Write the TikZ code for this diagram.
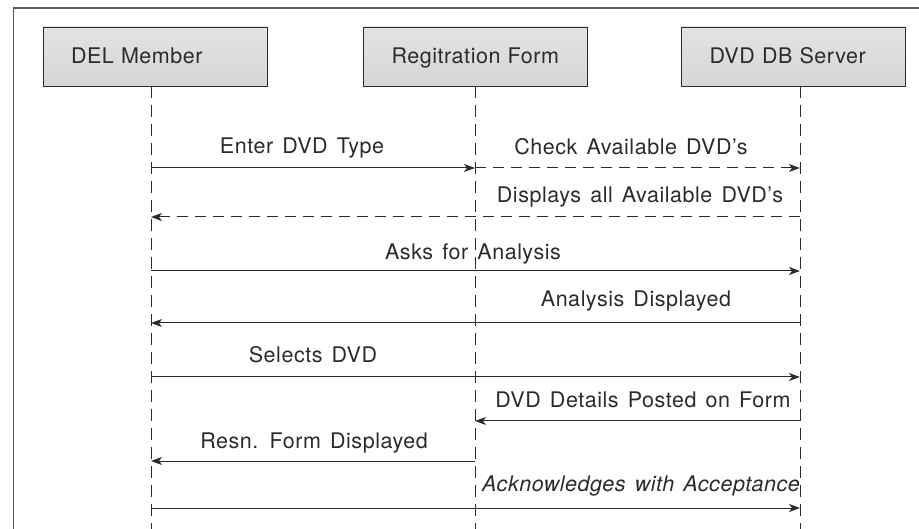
\documentclass[tikz,border=0pt]{standalone}
\usepackage{fontspec}
\setmainfont[LetterSpace=2.5,WordSpace=1.4]{TeX Gyre Heros}
\usetikzlibrary{arrows.meta}
\definecolor{ink}{HTML}{2B2B2B}

\begin{document}
\begin{tikzpicture}[x=1pt,y=-1pt,
  every node/.style={font=\fontsize{21.5}{25}\selectfont,text=ink},
  head/.style={draw=ink,line width=0.9pt,top color=gray!22,middle color=gray!6,bottom color=gray!32,
    minimum height=59pt,text width=168pt,inner xsep=28pt,align=left,text height=15pt,text depth=0pt},
  life/.style={draw=ink,line width=0.9pt,dash pattern=on 12pt off 7pt},
  msg/.style={draw=ink,line width=1pt,-{Stealth[length=11pt,width=8pt,inset=3pt]}},
  ret/.style={msg,dash pattern=on 11pt off 7pt},
  lbl/.style={anchor=base,inner sep=0pt}]
\useasboundingbox (0,0) rectangle (919,529);
\draw[gray!70!black,line width=1.3pt] (13.5,529) -- (13.5,8) -- (919,8);
% heads
\node[head] (mem) at (155,56.5) {DEL Member};
\node[head] (frm) at (475.5,56.5) {Regitration Form};
\node[head] (srv) at (793.5,56.5) {DVD DB Server};
\draw[life] (mem.south -| 151,0) -- (151,529);
\draw[life] (frm.south -| 475,0) -- (475,529);
\draw[life] (srv.south -| 800,0) -- (800,529);
% points on the lifelines
\foreach \y [count=\i] in {168,217,271,323,377,421,461,508}{
  \coordinate (a\i) at (151,\y);
  \coordinate (b\i) at (475,\y);
  \coordinate (c\i) at (800,\y);
}
\draw[msg] (a1) -- (b1);
\node[lbl] at (302,154) {Enter DVD Type};
\draw[ret] (b1) -- (c1);
\node[lbl] at (631,155) {Check Available DVD's};
\draw[ret] (c2) -- (a2);
\node[lbl] at (640,203) {Displays all Available DVD's};
\draw[msg] (a3) -- (c3);
\node[lbl] at (473,260) {Asks for Analysis};
\draw[msg] (c4) -- (a4);
\node[lbl] at (636,307) {Analysis Displayed};
\draw[msg] (a5) -- (c5);
\node[lbl] at (313,363) {Selects DVD};
\draw[msg] (c6) -- (b6);
\node[lbl] at (643,408) {DVD Details Posted on Form};
\draw[msg] (b7) -- (a7);
\node[lbl] at (314,448) {Resn. Form Displayed};
\draw[msg] (a8) -- (c8);
\node[lbl] at (641,491) {\itshape Acknowledges with Acceptance};
\end{tikzpicture}
\end{document}
